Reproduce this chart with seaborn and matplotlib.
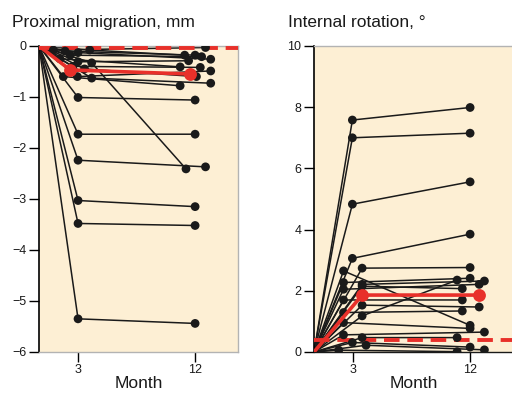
import matplotlib
matplotlib.use("Agg")
import matplotlib.pyplot as plt
import seaborn as sns
import numpy as np
import pandas as pd

# proximal migration (mm) at 3 and 12 months, one entry per patient
mig_3 = [-0.08, -0.08, -0.10, -0.18, -0.13, -0.31, -0.33, -0.25, -0.40, -0.60,
         -0.45, -0.60, -0.63, -1.01, -1.73, -2.24, -3.03, -3.48, -5.35]
mig_12 = [-0.03, -0.18, -0.18, -0.21, -0.26, -0.29, -2.41, -0.41, -0.42, -0.49,
          -0.60, -0.78, -0.73, -1.06, -1.73, -2.37, -3.15, -3.52, -5.44]
# horizontal jitter (months) as drawn in the figure
mig_j3 = [-1.9, 0.9, -1.0, -0.6, 0.0, 0.0, 1.05, -1.4, -0.4, -0.05,
          0.5, -1.13, 1.05, 0.0, 0.0, 0.0, 0.0, 0.0, 0.0]
mig_j12 = [0.8, -0.8, 0.0, 0.5, 1.2, -0.5, -0.7, -1.15, 0.4, 1.2,
           0.1, -1.15, 1.2, 0.0, 0.0, 0.8, 0.0, 0.0, 0.0]
mig_mean = [0.0, -0.47, -0.55]
mig_mean_x = [0.0, 2.4, 11.6]
mig_limit = -0.04

# internal rotation (degrees)
rot_3 = [7.58, 7.00, 4.83, 3.06, 2.74, 2.65, 2.27, 2.21, 2.05, 2.15,
         1.70, 1.53, 1.29, 1.18, 0.96, 0.56, 0.47, 0.31, 0.06, 0.22]
rot_12 = [7.99, 7.15, 5.56, 3.85, 2.76, 0.87, 2.41, 2.32, 2.21, 2.07,
          1.70, 1.47, 1.34, 2.35, 0.77, 0.65, 0.47, 0.16, 0.01, 0.07]
rot_j3 = [-0.05, -0.05, -0.05, -0.05, 0.7, -0.73, -0.73, 0.7, -0.73, 0.7,
          -0.73, 0.7, -0.73, 0.7, -0.73, -0.73, 0.7, -0.05, -1.1, 1.0]
rot_j12 = [0.0, 0.0, 0.0, 0.0, 0.0, 0.0, 0.0, 1.1, 0.7, -0.6,
           -0.6, 0.7, -0.6, -1.0, 0.0, 1.1, -1.0, 0.0, -1.0, 1.1]
rot_mean = [0.0, 1.86, 1.86]
rot_mean_x = [0.0, 3.7, 12.7]
rot_limit = 0.39

months = [3, 12]
BG = "#FDEFD4"
RED = "#E8302A"
GREY = "#b3b3b3"
INK = "#1a1a1a"

sns.set_theme(style="ticks")
plt.rcParams["font.family"] = ["Liberation Sans", "DejaVu Sans"]
plt.rcParams["text.color"] = INK
plt.rcParams["axes.labelcolor"] = INK
plt.rcParams["xtick.labelcolor"] = INK
plt.rcParams["ytick.labelcolor"] = INK


def long_table(v3, v12, j3, j12):
    rows = []
    for i in range(len(v3)):
        rows.append((i, 0.0, 0.0, False))
        rows.append((i, months[0] + j3[i], v3[i], True))
        rows.append((i, months[1] + j12[i], v12[i], True))
    return pd.DataFrame(rows, columns=["pid", "x", "y", "marked"])


def panel(ax, df, mean_x, mean_y, limit):
    ax.set_facecolor(BG)
    sns.lineplot(data=df, x="x", y="y", units="pid", estimator=None,
                 color=INK, lw=1.1, sort=False, ax=ax, legend=False)
    ax.axhline(limit, color=RED, lw=2.8, ls=(0, (4, 2)), zorder=3)
    sns.scatterplot(data=df[df["marked"]], x="x", y="y", color=INK, s=40,
                    edgecolor="none", ax=ax, zorder=4, legend=False)
    ax.plot(mean_x, mean_y, color=RED, lw=2.6, zorder=5)
    ax.scatter(mean_x[1:], mean_y[1:], color=RED, s=85, zorder=6, lw=0)
    ax.set_xlim(0, 15.3)
    ax.set_xticks(months)
    ax.set_xlabel("Month", fontsize=12.5, labelpad=0)
    ax.set_ylabel("")
    ax.tick_params(length=7, width=1, color="black", labelsize=9, pad=2)
    for s in ax.spines.values():
        s.set_color(GREY)
        s.set_linewidth(1)
    ax.spines["left"].set_color("black")
    ax.spines["left"].set_linewidth(1.2)


fig = plt.figure(figsize=(5.12, 3.95), dpi=100)
ax1 = fig.add_axes([0.0762, 0.1089, 0.3887, 0.7747])
ax2 = fig.add_axes([0.6133, 0.1089, 0.3887, 0.7747])

panel(ax1, long_table(mig_3, mig_12, mig_j3, mig_j12), mig_mean_x, mig_mean, mig_limit)
ax1.set_ylim(-6, 0)
ax1.set_yticks(range(-6, 1))

panel(ax2, long_table(rot_3, rot_12, rot_j3, rot_j12), rot_mean_x, rot_mean, rot_limit)
ax2.set_ylim(0, 10)
ax2.set_yticks(range(0, 11, 2))
ax2.spines["bottom"].set_color(INK)

fig.text(12 / 512, 1 - 27 / 395, "Proximal migration, mm", fontsize=12.5, va="baseline")
fig.text(288 / 512, 1 - 27 / 395, "Internal rotation, \u00b0", fontsize=12.5, va="baseline")

fig.savefig("out.png", dpi=100)
plt.close()
